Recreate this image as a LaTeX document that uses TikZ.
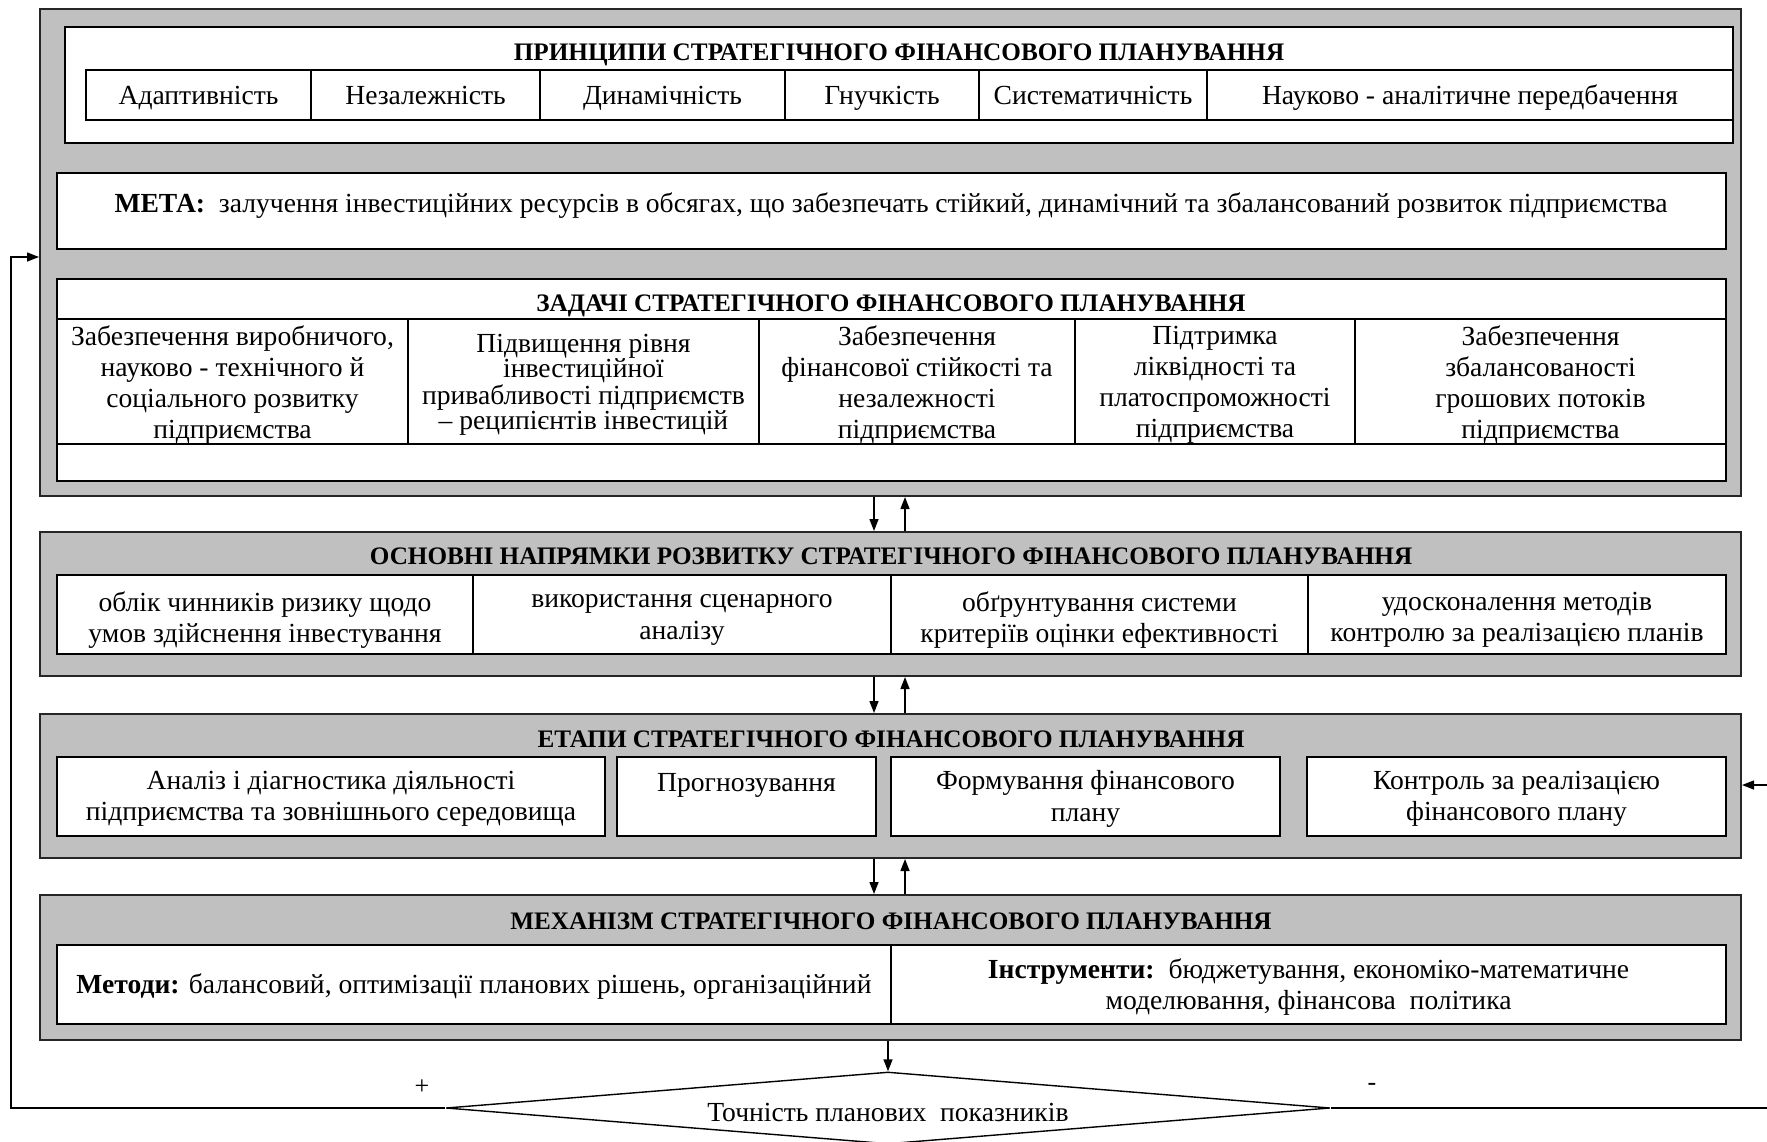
\documentclass[tikz,border=0pt]{standalone}
\usepackage{fontspec}
\setmainfont{Liberation Serif}
\usetikzlibrary{arrows.meta,fit,shapes.geometric}
\definecolor{boxgray}{RGB}{192,192,192}
\tikzset{
 x=0.5pt, y=-0.5pt,
 grp/.style={draw=black!85, line width=1pt, fill=boxgray, inner sep=0pt},
 wcell/.style={draw, line width=0.7pt, fill=white, inner sep=0pt},
 txt/.style={align=center, inner sep=0pt, yshift=-1.8pt, font=\fontsize{13.8}{15.6}\selectfont,
   execute at begin node=\strut, execute at end node=\strut},
 tght/.style={txt, font=\fontsize{13.8}{12.4}\selectfont},
 ttl/.style={inner sep=0pt, yshift=-1.8pt, font=\bfseries\fontsize{12.6}{14}\selectfont,
   execute at begin node=\strut},
 arr/.style={-{Triangle[length=6pt,width=4.5pt]}, line width=0.7pt},
}
\begin{document}
\begin{tikzpicture}
\useasboundingbox (0,0) rectangle (1767,1141);
% ---------- group 1 ----------
\node[grp, fit={(40,9)(1741,496)}] (g1) {};
\node[wcell, fit={(65,27)(1733,143)}] (pb) {};
\node[ttl] (pt) at (899,51) {ПРИНЦИПИ СТРАТЕГІЧНОГО ФІНАНСОВОГО ПЛАНУВАННЯ};
\node[wcell, fit={(86,70)(311,120)}] (p1) {};
\node[wcell, fit={(311,70)(540,120)}] (p2) {};
\node[wcell, fit={(540,70)(785,120)}] (p3) {};
\node[wcell, fit={(785,70)(979,120)}] (p4) {};
\node[wcell, fit={(979,70)(1207,120)}] (p5) {};
\node[wcell, fit={(1207,70)(1733,120)}] (p6) {};
\node[txt] at (p1.center) {Адаптивність};
\node[txt] at (p2.center) {Незалежність};
\node[txt] at (p3.center) {Динамічність};
\node[txt] at (p4.center) {Гнучкість};
\node[txt] at (p5.center) {Систематичність};
\node[txt] at (p6.center) {Науково - аналітичне передбачення};

\node[wcell, fit={(57,173)(1726,249)}] (mb) {};
\node[txt] (mt) at (891,203) {\textbf{МЕТА:}\ \ залучення інвестиційних ресурсів в обсягах, що забезпечать стійкий, динамічний та збалансований розвиток підприємства};

\node[wcell, fit={(57,279)(1726,481)}] (tb) {};
\node[wcell, fit={(57,279)(1726,319)}] (th) {};
\node[ttl] at (891,302) {ЗАДАЧІ СТРАТЕГІЧНОГО ФІНАНСОВОГО ПЛАНУВАННЯ};
\node[wcell, fit={(57,319)(408,444)}] (t1) {};
\node[wcell, fit={(408,319)(759,444)}] (t2) {};
\node[wcell, fit={(759,319)(1075,444)}] (t3) {};
\node[wcell, fit={(1075,319)(1355,444)}] (t4) {};
\node[wcell, fit={(1355,319)(1726,444)}] (t5) {};
\node[txt] at (t1.center |- 0,383) {Забезпечення виробничого,\\науково - технічного й\\соціального розвитку\\підприємства};
\node[tght] at (t2.center |- 0,382) {Підвищення рівня\\інвестиційної\\привабливості підприємств\\– реципієнтів інвестицій};
\node[txt] at (t3.center |- 0,383) {Забезпечення\\фінансової стійкості та\\незалежності\\підприємства};
\node[txt] at (t4.center |- 0,383) {Підтримка\\ліквідності та\\платоспроможності\\підприємства};
\node[txt] at (t5.center |- 0,383) {Забезпечення\\збалансованості\\грошових потоків\\підприємства};

% ---------- group 2 ----------
\node[grp, fit={(40,532)(1741,676)}] (g2) {};
\node[ttl] at (891,555) {ОСНОВНІ НАПРЯМКИ РОЗВИТКУ СТРАТЕГІЧНОГО ФІНАНСОВОГО ПЛАНУВАННЯ};
\node[wcell, fit={(57,575)(473,654)}] (n1) {};
\node[wcell, fit={(473,575)(891,654)}] (n2) {};
\node[wcell, fit={(891,575)(1308,654)}] (n3) {};
\node[wcell, fit={(1308,575)(1726,654)}] (n4) {};
\node[txt] at (n1.center |- 0,618) {облік чинників ризику щодо\\умов здійснення інвестування};
\node[txt] at (n2.center |- 0,618) {використання сценарного\\аналізу};
\node[txt] at (n3.center |- 0,618) {обґрунтування системи\\критеріїв оцінки ефективності};
\node[txt] at (n4.center |- 0,618) {удосконалення методів\\контролю за реалізацією планів};

% ---------- group 3 ----------
\node[grp, fit={(40,714)(1741,858)}] (g3) {};
\node[ttl] at (891,738) {ЕТАПИ СТРАТЕГІЧНОГО ФІНАНСОВОГО ПЛАНУВАННЯ};
\node[wcell, fit={(57,757)(605,836)}] (e1) {};
\node[wcell, fit={(617,757)(876,836)}] (e2) {};
\node[wcell, fit={(891,757)(1280,836)}] (e3) {};
\node[wcell, fit={(1307,757)(1726,836)}] (e4) {};
\node[txt] at (e1.center |- 0,797) {Аналіз і діагностика діяльності\\підприємства та зовнішнього середовища};
\node[txt] at (e2.center |- 0,782) {Прогнозування};
\node[txt] at (e3.center |- 0,797) {Формування фінансового\\плану};
\node[txt] at (e4.center |- 0,797) {Контроль за реалізацією\\фінансового плану};

% ---------- group 4 ----------
\node[grp, fit={(40,895)(1741,1040)}] (g4) {};
\node[ttl] at (891,920) {МЕХАНІЗМ СТРАТЕГІЧНОГО ФІНАНСОВОГО ПЛАНУВАННЯ};
\node[wcell, fit={(57,945)(891,1024)}] (m1) {};
\node[wcell, fit={(891,945)(1726,1024)}] (m2) {};
\node[txt] at (m1.center |- 0,984) {\textbf{Методи:} балансовий, оптимізації планових рішень, організаційний};
\node[txt] at (m2.center |- 0,985) {\textbf{Інструменти:}\ \ бюджетування, економіко-математичне\\моделювання, фінансова\ \ політика};

% ---------- decision ----------
\node[diamond, draw, line width=0.7pt, fill=white, inner sep=0pt, aspect=12,
      minimum width=442pt, minimum height=36pt] (dia) at (888,1108) {};
\node[txt] at (dia.center |- 0,1112) {Точність планових\ \ показників};
\node[inner sep=0pt, font=\fontsize{13}{14}\selectfont] (plus) at (422,1087) {+};
\node[inner sep=0pt, font=\fontsize{13}{14}\selectfont] (minus) at (1372,1087) {-};

% ---------- connectors ----------
\coordinate (ax) at (874,0);
\coordinate (bx) at (905,0);
\draw[arr] (g1.south -| ax) -- (g2.north -| ax);
\draw[arr] (g2.north -| bx) -- (g1.south -| bx);
\draw[arr] (g2.south -| ax) -- (g3.north -| ax);
\draw[arr] (g3.north -| bx) -- (g2.south -| bx);
\draw[arr] (g3.south -| ax) -- (g4.north -| ax);
\draw[arr] (g4.north -| bx) -- (g3.south -| bx);
\draw[arr] (g4.south -| dia.north) -- (dia.north);
\coordinate (fbL) at (11,257);
\draw[arr] (dia.west) -| (fbL) -- (fbL -| g1.west);
\coordinate (rE) at (1767,1108);
\draw[line width=0.7pt] (dia.east) -- (rE);
\coordinate (rA) at (1767,785);
\draw[arr] (rA) -- (rA -| g3.east);
\end{tikzpicture}
\end{document}
